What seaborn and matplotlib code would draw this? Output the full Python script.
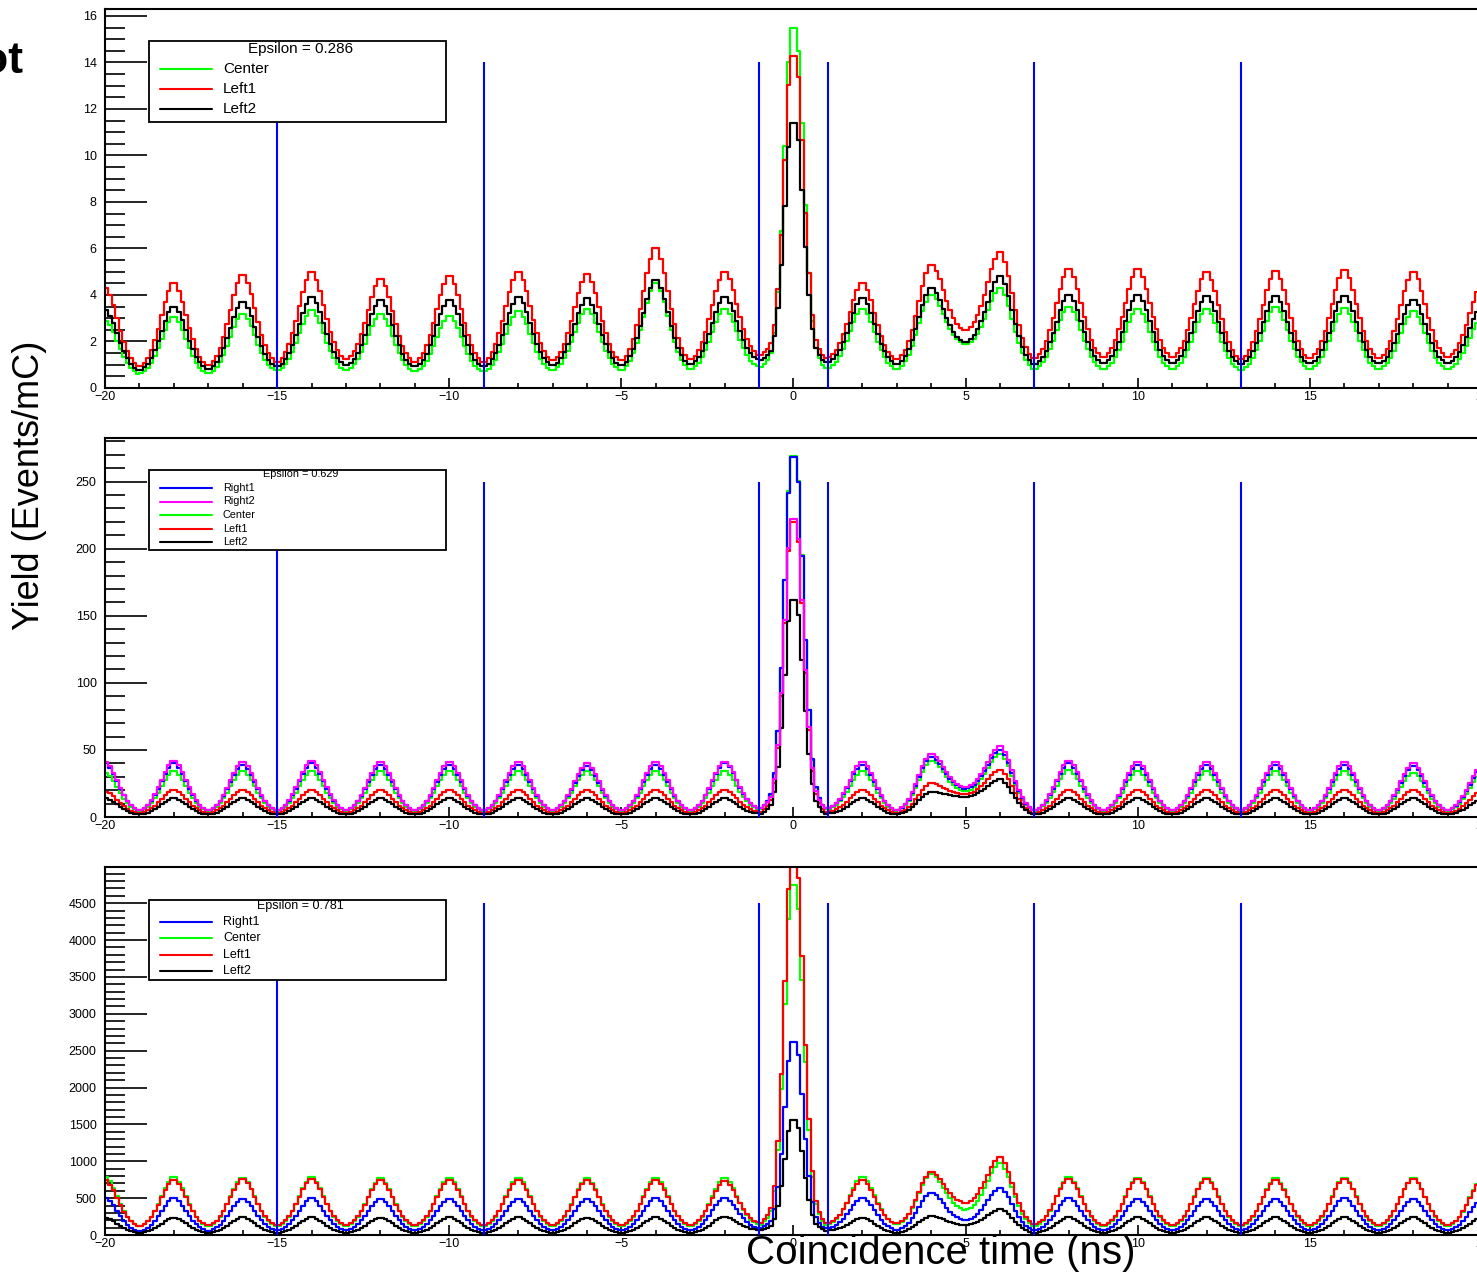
import numpy as np
import pandas as pd
import matplotlib
matplotlib.use("Agg")
import matplotlib.pyplot as plt
from matplotlib.patches import Rectangle
from matplotlib.lines import Line2D
from matplotlib.ticker import MultipleLocator
import seaborn as sns

# bunch positions (ns) and cut lines
bunch_ns = [-20, -18, -16, -14, -12, -10, -8, -6, -4, -2, 0, 2, 4, 6, 8, 10, 12, 14, 16, 18, 20]
cut_ns = [-15, -9, -1, 1, 7, 13]
center_idx = 10

# relative peak profile, one value per 0.1 ns bin away from the bunch
side_shape = [1.0, 0.91, 0.78, 0.62, 0.46, 0.32, 0.2, 0.11, 0.05, 0.01]
center_left = [1.0, 0.9, 0.65, 0.4, 0.22, 0.1, 0.04, 0.02, 0.01, 0.0]
center_right = [1.0, 0.93, 0.72, 0.48, 0.28, 0.14, 0.06, 0.03, 0.01, 0.0]

# panel 1: epsilon = 0.286  (peak heights per bunch, valley levels per gap)
p1_center_peaks = [2.9, 3.05, 3.2, 3.35, 3.2, 3.1, 3.3, 3.4, 4.5, 3.4, 15.5, 3.4, 4.0, 4.3, 3.5, 3.4, 3.4, 3.5, 3.44, 3.3, 3.0]
p1_center_valleys = [0.6, 0.6, 0.73, 0.75, 0.7, 0.7, 0.75, 0.75, 0.8, 0.9, 0.85, 0.8, 1.85, 0.8, 0.8, 0.8, 0.75, 0.8, 0.8, 0.8]
p1_left1_peaks = [4.3, 4.5, 4.85, 5.0, 4.7, 4.8, 5.0, 4.9, 6.0, 5.0, 14.3, 4.5, 5.3, 5.85, 5.1, 5.1, 5.0, 5.05, 5.07, 5.0, 4.4]
p1_left1_valleys = [0.9, 0.95, 1.1, 1.2, 1.1, 1.1, 1.15, 1.15, 1.2, 1.4, 1.3, 1.2, 2.45, 1.25, 1.3, 1.3, 1.2, 1.25, 1.25, 1.3]
p1_left2_peaks = [3.35, 3.5, 3.7, 3.9, 3.8, 3.8, 3.9, 3.85, 4.65, 3.9, 11.4, 3.85, 4.3, 4.8, 4.0, 4.0, 3.95, 3.95, 3.96, 3.8, 3.5]
p1_left2_valleys = [0.75, 0.8, 0.9, 0.95, 0.9, 0.9, 0.95, 0.95, 1.0, 1.2, 1.1, 1.0, 1.95, 1.0, 1.05, 1.05, 1.0, 1.03, 1.03, 1.05]

# panel 2: epsilon = 0.629
p2_right1_peaks = [40, 40, 39, 40, 39, 39, 39, 38, 39, 40, 268, 39, 45, 50, 40, 39, 39, 39, 39, 38, 36]
p2_right1_valleys = [5, 5, 5, 5, 5, 5, 5, 5, 5, 6.5, 6.5, 5, 21, 5, 5, 5, 5, 5, 5, 5]
p2_right2_peaks = [41, 42, 41, 42, 41, 41, 41, 40, 41, 41, 222, 41, 47, 53, 42, 41, 41, 41, 41, 40, 38]
p2_right2_valleys = [5, 5, 5, 5, 5, 5, 5, 5, 5, 6.5, 6.5, 5, 22, 5, 5, 5, 5, 5, 5, 5]
p2_center_peaks = [33, 34, 34, 34, 34, 34, 34, 34, 34, 34, 269, 34, 42, 47, 35, 34, 34, 34, 34, 33, 32]
p2_center_valleys = [4.5, 4.5, 4.5, 4.5, 4.5, 4.5, 4.5, 4.5, 4.5, 6, 6, 4.5, 19, 4.5, 4.5, 4.5, 4.5, 4.5, 4.5, 4.5]
p2_left1_peaks = [19, 20, 20, 20, 20, 20, 20, 20, 20, 20, 220, 20, 25, 35, 20, 20, 20, 20, 20, 20, 19]
p2_left1_valleys = [3, 3, 3, 3, 3, 3, 3, 3, 3, 4, 4, 3, 17, 3, 3, 3, 3, 3, 3, 3]
p2_left2_peaks = [14, 14, 14, 14, 14, 14, 14, 14, 14, 14, 162, 14, 19, 28, 14, 14, 14, 14, 14, 14, 13]
p2_left2_valleys = [2, 2, 2, 2, 2, 2, 2, 2, 2, 2.5, 2.5, 2, 15, 2, 2, 2, 2, 2, 2, 2]

# panel 3: epsilon = 0.781
p3_right1_peaks = [500, 495, 490, 495, 490, 490, 490, 490, 495, 500, 2615, 500, 570, 637, 495, 490, 490, 490, 495, 490, 470]
p3_right1_valleys = [50, 55, 60, 60, 60, 60, 60, 60, 60, 95, 90, 68, 200, 65, 60, 60, 60, 60, 60, 60]
p3_center_peaks = [790, 780, 775, 780, 770, 775, 775, 770, 775, 772, 4740, 786, 830, 975, 780, 775, 775, 770, 775, 770, 750]
p3_center_valleys = [110, 110, 115, 115, 115, 115, 115, 115, 120, 140, 140, 140, 340, 120, 115, 115, 115, 115, 115, 115]
p3_left1_peaks = [740, 750, 755, 760, 745, 750, 750, 745, 750, 735, 5200, 745, 855, 1057, 760, 755, 760, 750, 760, 755, 730]
p3_left1_valleys = [120, 125, 130, 130, 130, 130, 130, 130, 135, 165, 160, 150, 434, 140, 130, 130, 130, 130, 130, 130]
p3_left2_peaks = [230, 235, 240, 240, 235, 240, 240, 235, 240, 244, 1558, 230, 257, 350, 240, 240, 240, 240, 240, 240, 230]
p3_left2_valleys = [25, 28, 30, 30, 30, 30, 30, 30, 30, 68, 60, 30, 135, 30, 30, 30, 30, 30, 30, 30]

bin_w = 0.1
n_bins = 400
centers = np.linspace(-20, 20, n_bins + 1)[:-1] + bin_w / 2
n_shape = len(side_shape)


def build_counts(peaks, valleys):
    counts = []
    for t in centers:
        k = int(round((t - bunch_ns[0]) / 2))
        k = min(max(k, 0), len(bunch_ns) - 1)
        d = t - bunch_ns[k]
        i = min(int(abs(d) / bin_w), n_shape - 1)
        if k == center_idx:
            shape = center_left if d < 0 else center_right
        else:
            shape = side_shape
        gap = k - 1 if d < 0 else k
        gap = min(max(gap, 0), len(valleys) - 1)
        base = valleys[gap]
        counts.append(base + (peaks[k] - base) * shape[i])
    return np.array(counts)


GREEN, RED, BLACK, BLUE, MAGENTA = "#00ff00", "#ff0000", "#000000", "#0000ff", "#ff00ff"

panels = [
    dict(eps="Epsilon = 0.286", ymax=16.3, major=2, minor=0.5, cut_top=14,
         draw=[("Center", GREEN, p1_center_peaks, p1_center_valleys),
               ("Left1", RED, p1_left1_peaks, p1_left1_valleys),
               ("Left2", BLACK, p1_left2_peaks, p1_left2_valleys)],
         legend=["Center", "Left1", "Left2"],
         box=(149, 41, 446, 122), head_y=49, rows=[69, 89, 109], fs=11),
    dict(eps="Epsilon = 0.629", ymax=282.5, major=50, minor=10, cut_top=250,
         draw=[("Center", GREEN, p2_center_peaks, p2_center_valleys),
               ("Left1", RED, p2_left1_peaks, p2_left1_valleys),
               ("Left2", BLACK, p2_left2_peaks, p2_left2_valleys),
               ("Right1", BLUE, p2_right1_peaks, p2_right1_valleys),
               ("Right2", MAGENTA, p2_right2_peaks, p2_right2_valleys)],
         legend=["Right1", "Right2", "Center", "Left1", "Left2"],
         box=(149, 470, 446, 550), head_y=474, rows=[488, 501.5, 515, 528.5, 542], fs=7.8),
    dict(eps="Epsilon = 0.781", ymax=4990, major=500, minor=100, cut_top=4500,
         draw=[("Center", GREEN, p3_center_peaks, p3_center_valleys),
               ("Left1", RED, p3_left1_peaks, p3_left1_valleys),
               ("Right1", BLUE, p3_right1_peaks, p3_right1_valleys),
               ("Left2", BLACK, p3_left2_peaks, p3_left2_valleys)],
         legend=["Right1", "Center", "Left1", "Left2"],
         box=(149, 900, 446, 980), head_y=906, rows=[922, 938, 955, 971], fs=9),
]
colors = {"Center": GREEN, "Left1": RED, "Left2": BLACK, "Right1": BLUE, "Right2": MAGENTA}

sns.set_theme(style="white")
plt.rcParams["font.family"] = ["Liberation Sans", "DejaVu Sans"]
plt.rcParams["text.color"] = "black"
plt.rcParams["xtick.color"] = "black"
plt.rcParams["ytick.color"] = "black"
plt.rcParams["axes.labelcolor"] = "black"

W, H = 1477, 1272
fig = plt.figure(figsize=(W / 100, H / 100), dpi=100)


def fx(px):
    return px / W


def fy(py):
    return 1 - py / H


frames = [(9, 388), (438, 817), (867, 1235)]

for cfg, (top, bot) in zip(panels, frames):
    ax = fig.add_axes([fx(105), fy(bot), fx(1482) - fx(105), (bot - top) / H])
    for name, col, pk, vl in cfg["draw"]:
        df = pd.DataFrame({"time": centers, "yield": build_counts(pk, vl)})
        sns.histplot(data=df, x="time", weights="yield", bins=n_bins, binrange=(-20, 20),
                     element="step", fill=False, color=col, linewidth=1.6, ax=ax)
    ax.vlines(cut_ns, 0, cfg["cut_top"], color=BLUE, linewidth=1.5, zorder=5)
    ax.set_xlim(-20, 20)
    ax.set_ylim(0, cfg["ymax"])
    ax.set_xlabel("")
    ax.set_ylabel("")
    ax.set_xticks([-20, -15, -10, -5, 0, 5, 10, 15, 20])
    ax.xaxis.set_minor_locator(MultipleLocator(1))
    ax.yaxis.set_major_locator(MultipleLocator(cfg["major"]))
    ax.yaxis.set_minor_locator(MultipleLocator(cfg["minor"]))
    ax.tick_params(axis="x", which="major", direction="in", length=7, width=1.2,
                   labelsize=9, pad=2, color="black", labelcolor="black")
    ax.tick_params(axis="x", which="minor", direction="in", length=3.6, width=1.2, color="black")
    ax.tick_params(axis="y", which="major", direction="in", length=30, width=1.2,
                   labelsize=9, pad=6, color="black", labelcolor="black")
    ax.tick_params(axis="y", which="minor", direction="in", length=14.4, width=1.2, color="black")
    ax.tick_params(bottom=True, left=True, which="both")
    for sp in ax.spines.values():
        sp.set_color("black")
        sp.set_linewidth(1.5)
    ax.grid(False)

    # legend box, ROOT style
    x0, y0, x1, y1 = cfg["box"]
    rect = Rectangle((fx(x0), fy(y1)), fx(x1) - fx(x0), (y1 - y0) / H,
                     transform=fig.transFigure, facecolor="white", edgecolor="black",
                     linewidth=1.3, zorder=10)
    fig.add_artist(rect)
    head = fig.text(fx((x0 + x1) / 2 + 3), fy(cfg["head_y"]), cfg["eps"], ha="center", va="center",
                    fontsize=cfg["fs"], color="black", zorder=11)
    head.set_clip_path(rect)
    for name, yy in zip(cfg["legend"], cfg["rows"]):
        fig.add_artist(Line2D([fx(160), fx(212)], [fy(yy), fy(yy)], transform=fig.transFigure,
                              color=colors[name], linewidth=1.5, zorder=11))
        fig.text(fx(223), fy(yy), name, ha="left", va="center", fontsize=cfg["fs"],
                 color="black", zorder=11)

fig.text(fx(30), fy(485), "Yield (Events/mC)", rotation=90, ha="center", va="center",
         fontsize=26, color="black")
fig.text(fx(941), fy(1253), "Coincidence time (ns)", ha="center", va="center", fontsize=29,
         color="black", zorder=12)
fig.text(fx(23), fy(73), "Plot", ha="right", va="baseline", fontsize=32, fontweight="bold",
         color="black")

fig.savefig("out.png", dpi=100)
